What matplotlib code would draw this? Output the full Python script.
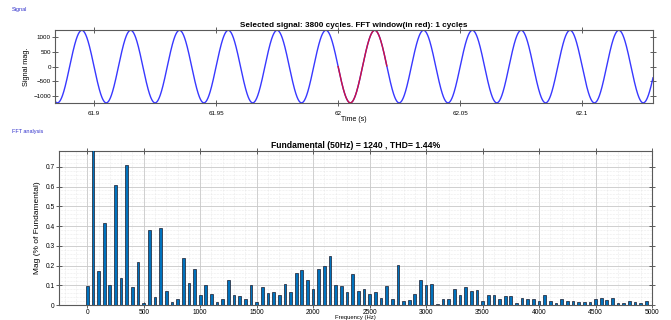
import numpy as np
import matplotlib
matplotlib.use('Agg')
import matplotlib.pyplot as plt
from matplotlib.ticker import MultipleLocator
from matplotlib import font_manager

names = set(f.name for f in font_manager.fontManager.ttflist)
narrow = 'Liberation Sans Narrow' if 'Liberation Sans Narrow' in names else 'Liberation Sans'
plt.rcParams['font.family'] = ['Liberation Sans', 'DejaVu Sans']

# signal parameters
fund_freq = 50
fund_amp = 1240
t_start, t_end = 61.884, 62.129
win_start, win_end = 62.0, 62.02

# FFT harmonic magnitudes (% of fundamental), 0 Hz .. 4950 Hz every 50 Hz
harm_freqs = np.arange(0, 5000, 50)
harm_mag = [
    0.095, 100, 0.17, 0.415, 0.10, 0.61, 0.135, 0.71, 0.09, 0.22,
    0.012, 0.38, 0.042, 0.39, 0.07, 0.015, 0.032, 0.237, 0.11, 0.182,
    0.053, 0.103, 0.057, 0.015, 0.032, 0.125, 0.053, 0.046, 0.028, 0.10,
    0.017, 0.092, 0.06, 0.066, 0.052, 0.106, 0.066, 0.164, 0.175, 0.127,
    0.079, 0.18, 0.197, 0.25, 0.10, 0.096, 0.068, 0.159, 0.071, 0.083,
    0.054, 0.064, 0.037, 0.095, 0.029, 0.203, 0.022, 0.025, 0.055, 0.125,
    0.10, 0.105, 0.006, 0.031, 0.03, 0.083, 0.051, 0.09, 0.071, 0.077,
    0.021, 0.052, 0.052, 0.028, 0.045, 0.046, 0.012, 0.035, 0.029, 0.029,
    0.022, 0.052, 0.02, 0.01, 0.029, 0.02, 0.02, 0.013, 0.013, 0.013,
    0.032, 0.035, 0.027, 0.035, 0.008, 0.008, 0.018, 0.017, 0.008, 0.022,
]

signal_title = 'Selected signal: 3800 cycles. FFT window(in red): 1 cycles'
fft_title = 'Fundamental (50Hz) = 1240 , THD= 1.44%'

fig = plt.figure(figsize=(6.71, 3.2), dpi=100)
fig.patch.set_facecolor('white')

fig.text(12/671, 1 - 10/320, 'Signal', color='#3333cc', fontsize=4, va='center')
fig.text(12/671, 1 - 132/320, 'FFT analysis', color='#3333cc', fontsize=4, va='center')

box_col = '#5a5a5a'

def style_axes(ax, size):
    for s in ax.spines.values():
        s.set_color(box_col)
        s.set_linewidth(0.8)
    ax.tick_params(direction='inout', top=True, right=True, labelsize=size,
                   length=5, width=0.6, color='#444444')
    ax.tick_params(axis='y', pad=0.5)
    ax.tick_params(axis='x', pad=3)
    ax.tick_params(which='minor', length=0)

# --- signal panel
ax1 = fig.add_axes([55/671, 1 - 103/320, 598/671, 73/320])
t = np.linspace(t_start, t_end, 3000)
sig = -fund_amp * np.sin(2*np.pi*fund_freq*(t - win_start))
ax1.plot(t, sig, color='#3838ff', lw=1.0)
m = (t >= win_start) & (t <= win_end)
ax1.plot(t[m], sig[m], color='#cc1144', lw=1.0)
ax1.set_xlim(t_start, t_end)
ax1.set_ylim(-1245, 1250)
ax1.set_xticks([61.9, 61.95, 62.0, 62.05, 62.1])
ax1.set_xticklabels(['61.9', '61.95', '62', '62.05', '62.1'])
ax1.set_yticks([-1000, -500, 0, 500, 1000])
style_axes(ax1, 4.5)
ax1.set_title(signal_title, fontsize=5.9, fontweight='bold', family=narrow, pad=2)
ax1.set_xlabel('Time (s)', fontsize=5, labelpad=0.5)
ax1.set_ylabel('Signal mag.', fontsize=5.3, labelpad=2)

# --- FFT panel
ax2 = fig.add_axes([59/671, 1 - 305/320, 593/671, 154/320])
ax2.bar(harm_freqs, harm_mag, width=24, color='#0072bd', edgecolor='#1a1a2a',
        linewidth=0.5, zorder=3)
ax2.set_xlim(-250, 5000)
ax2.set_ylim(0, 0.78)
ax2.xaxis.set_major_locator(MultipleLocator(500))
ax2.xaxis.set_minor_locator(MultipleLocator(100))
ax2.yaxis.set_major_locator(MultipleLocator(0.1))
ax2.yaxis.set_minor_locator(MultipleLocator(0.02))
ax2.grid(which='major', color='#c8c8c8', lw=0.6, zorder=0)
ax2.grid(which='minor', color='#dadada', lw=0.4, ls=':', zorder=0)
ax2.set_yticklabels(['0' if v == 0 else '%g' % v for v in ax2.get_yticks()])
style_axes(ax2, 4.8)
ax2.tick_params(axis='x', pad=0.6)
ax2.set_title(fft_title, fontsize=6.2, fontweight='bold', family=narrow, pad=2)
ax2.set_xlabel('Frequency (Hz)', fontsize=4.2, labelpad=-0.6)
ax2.set_ylabel('Mag (% of Fundamental)', fontsize=6, labelpad=3)

fig.savefig('out.png', dpi=100)
